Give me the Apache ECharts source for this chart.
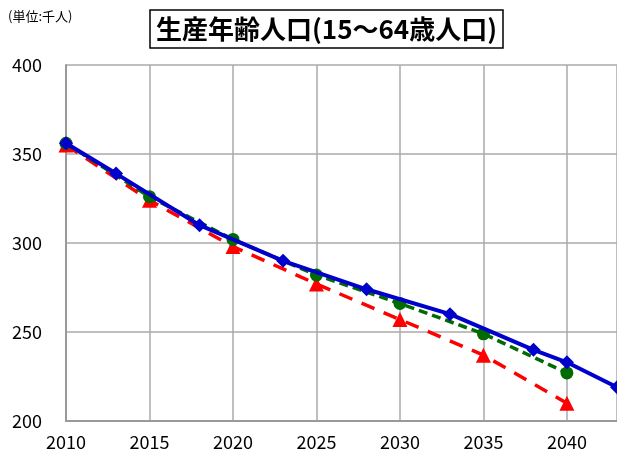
<!DOCTYPE html>
<html><head><meta charset="utf-8">
<script src="https://cdn.jsdelivr.net/npm/echarts@6/dist/echarts.min.js"></script>
<style>html,body{margin:0;padding:0;background:#fff;}#c{width:617px;height:459px;}</style>
</head><body><div id="c"></div>
<script>
const titleText = '生産年齢人口(15～64歳人口)';
const unitText = '(単位:千人)';
const blueYears = [2010, 2013, 2018, 2023, 2028, 2033, 2038, 2040, 2043];
const blueValues = [356, 339, 310, 290, 274, 260, 240, 233, 219];
const greenYears = [2010, 2015, 2020, 2025, 2030, 2035, 2040];
const greenValues = [356, 326, 302, 282, 266, 249, 227];
const redYears = [2010, 2015, 2020, 2025, 2030, 2035, 2040];
const redValues = [355, 324, 298, 277, 257, 237, 210];

const pair = (xs, ys) => xs.map((x, i) => [x, ys[i]]);
const font = '"Noto Sans CJK JP", "Noto Sans", sans-serif';
const chart = echarts.init(document.getElementById('c'), null, {renderer: 'canvas'});
chart.setOption({
  animation: false,
  backgroundColor: '#fff',
  title: [{
    text: titleText, left: 150, top: 10,
    borderColor: '#000', borderWidth: 1.5, padding: [3, 6, 2, 6],
    textStyle: {fontFamily: font, fontSize: 26, fontWeight: 'bold', color: '#000', lineHeight: 33}
  }, {
    text: unitText, left: 3, top: 5,
    textStyle: {fontFamily: font, fontSize: 13, fontWeight: 'normal', color: '#000'}
  }],
  grid: {left: 66, top: 65, right: 0, bottom: 38, containLabel: false},
  xAxis: {
    type: 'value', min: 2010, max: 2043, interval: 5,
    axisLine: {show: true, lineStyle: {color: '#999', width: 2}},
    axisTick: {show: false},
    splitLine: {show: true, lineStyle: {color: '#aaa', width: 1.5}},
    axisLabel: {fontFamily: font, fontSize: 18, color: '#000', margin: 12, showMaxLabel: false,
      formatter: v => String(v)}
  },
  yAxis: {
    type: 'value', min: 200, max: 400, interval: 50,
    axisLine: {show: true, lineStyle: {color: '#999', width: 2}},
    axisTick: {show: false},
    splitLine: {show: true, lineStyle: {color: '#aaa', width: 1.5}},
    axisLabel: {fontFamily: font, fontSize: 18, color: '#000', margin: 24}
  },
  series: [{
    type: 'line', data: pair(redYears, redValues),
    symbol: 'triangle', symbolSize: 15,
    lineStyle: {color: '#ff0000', width: 3.5, type: [14, 10]},
    itemStyle: {color: '#ff0000'}, z: 2
  }, {
    type: 'line', data: pair(greenYears, greenValues),
    symbol: 'circle', symbolSize: 13,
    lineStyle: {color: '#006b00', width: 3.5, type: [9, 5]},
    itemStyle: {color: '#006b00'}, z: 3
  }, {
    type: 'line', data: pair(blueYears, blueValues),
    symbol: 'diamond', symbolSize: 14,
    lineStyle: {color: '#0000cc', width: 4},
    itemStyle: {color: '#0000cc'}, z: 4
  }]
});
</script></body></html>
